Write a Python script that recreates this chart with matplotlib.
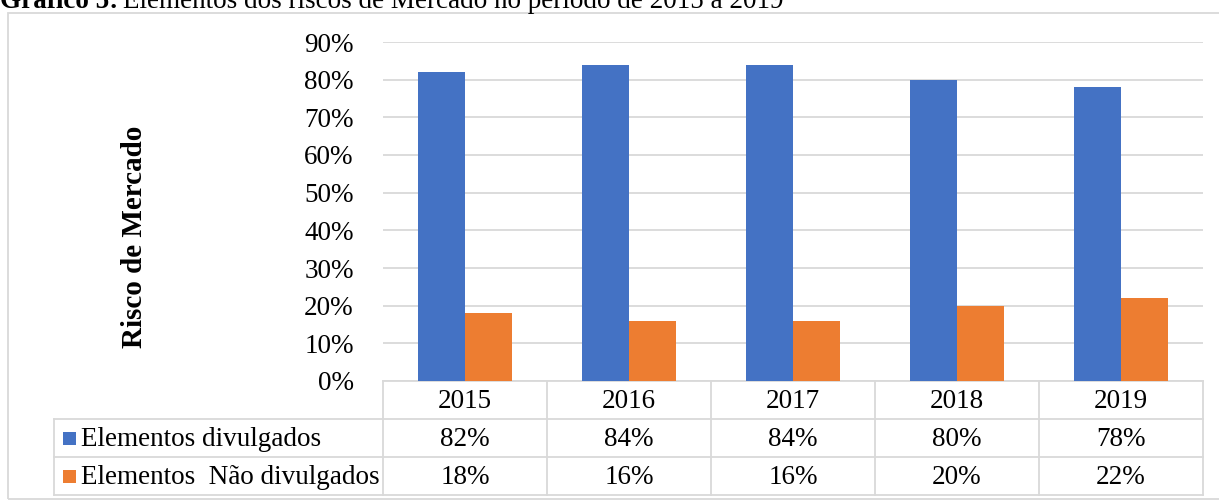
import matplotlib
matplotlib.use("Agg")
import matplotlib.pyplot as plt
import matplotlib.transforms as mtransforms
from matplotlib.lines import Line2D
from matplotlib.patches import Rectangle

plt.rcParams['font.family'] = ['Liberation Serif', 'DejaVu Serif']

years = ['2015', '2016', '2017', '2018', '2019']
divulgados = [0.82, 0.84, 0.84, 0.80, 0.78]
nao_divulgados = [0.18, 0.16, 0.16, 0.20, 0.22]
series_names = ['Elementos divulgados', 'Elementos  Não divulgados']
colors = ['#4472C4', '#ED7D31']
yticks = [0, 0.1, 0.2, 0.3, 0.4, 0.5, 0.6, 0.7, 0.8, 0.9]

W, H = 1219, 500
fig = plt.figure(figsize=(W / 100, H / 100), dpi=100)

def fx(px):
    return px / W

def fy(py):
    return 1 - py / H

grid_c = '#D9D9D9'
fs = 19.5

# outer chart border
fig.add_artist(Rectangle((fx(8), fy(499)), fx(1230) - fx(8), fy(13) - fy(499),
                         transform=fig.transFigure, fill=False,
                         edgecolor=grid_c, lw=1.3))

ax = fig.add_axes([fx(383), fy(381), fx(1203) - fx(383), fy(42) - fy(381)])
x = list(range(len(years)))
bw = 0.287
ax.bar([i - bw / 2 for i in x], divulgados, bw, color=colors[0], zorder=3)
ax.bar([i + bw / 2 for i in x], nao_divulgados, bw, color=colors[1], zorder=3)
ax.set_xlim(-0.5, len(years) - 0.5)
ax.set_ylim(0, 0.9)
ax.set_yticks(yticks)
ax.set_yticklabels([f"{int(round(v * 100))}%" for v in yticks], fontsize=fs)
ax.tick_params(axis='y', length=0, pad=21)
ax.set_xticks([])
ax.grid(axis='y', color=grid_c, lw=1.3, zorder=0)
for s in ['top', 'right', 'left']:
    ax.spines[s].set_visible(False)
ax.spines['bottom'].set_color(grid_c)
ax.spines['bottom'].set_linewidth(1.3)

# data table below the axes
tr = mtransforms.blended_transform_factory(ax.transData, fig.transFigure)
row_y = [381, 419, 457, 495]
baselines = [408, 446, 484]
left_px = 54
for yy in row_y[1:]:
    fig.add_artist(Line2D([fx(left_px), fx(1203)], [fy(yy), fy(yy)],
                          transform=fig.transFigure, color=grid_c, lw=1.3))
for b in [i - 0.5 for i in x] + [len(years) - 0.5]:
    fig.add_artist(Line2D([b, b], [fy(381), fy(495)], transform=tr,
                          color=grid_c, lw=1.3))
fig.add_artist(Line2D([fx(left_px), fx(left_px)], [fy(419), fy(495)],
                      transform=fig.transFigure, color=grid_c, lw=1.3))

for i, yr in enumerate(years):
    fig.text(i, fy(baselines[0]), yr, transform=tr, ha='center',
             va='baseline', fontsize=fs)
rows = [divulgados, nao_divulgados]
for r, vals in enumerate(rows):
    yb = baselines[r + 1]
    yc = (row_y[r + 1] + row_y[r + 2]) / 2
    for i, v in enumerate(vals):
        fig.text(i, fy(yb), f"{int(round(v * 100))}%", transform=tr,
                 ha='center', va='baseline', fontsize=fs)
    fig.add_artist(Rectangle((fx(63), fy(yc + 6.5)), fx(13), fy(yc - 6.5) - fy(yc + 6.5),
                             transform=fig.transFigure, color=colors[r], lw=0))
    fig.text(fx(81), fy(yb), series_names[r], ha='left', va='baseline', fontsize=fs)

fig.text(fx(134), fy(237), 'Risco de Mercado', rotation=90, ha='center',
         va='center', fontsize=21, fontweight='bold')

# title, cut off at the top edge as in the source
t = fig.text(fx(0), fy(8), 'Gráfico 5:', ha='left', va='baseline',
             fontsize=fs, fontweight='bold')
fig.canvas.draw()
bb = t.get_window_extent()
fig.text(bb.x1 / W + fx(5), fy(8), 'Elementos dos riscos de Mercado no período de 2015 a 2019',
         ha='left', va='baseline', fontsize=fs)

fig.savefig('out.png', dpi=100)
